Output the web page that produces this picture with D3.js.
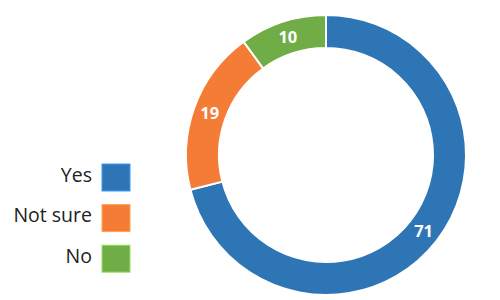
<!DOCTYPE html>
<html><head><meta charset="utf-8">
<script src="https://cdn.jsdelivr.net/npm/d3@7"></script>
<style>html,body{margin:0;padding:0;background:#fff;}</style>
</head><body>
<svg id="chart" width="500" height="300"></svg>
<script>
const categories = ["Yes", "Not sure", "No"];
const values = [71, 19, 10];
const colors = ["#2E75B6", "#F47C37", "#70AD47"];

const svg = d3.select("#chart");
const cx = 326, cy = 155, rOuter = 140, rInner = 107;

const pie = d3.pie().sort(null).value(d => d.v);
const arcs = pie(categories.map((c, i) => ({c, v: values[i], col: colors[i]})));
const arc = d3.arc().innerRadius(rInner).outerRadius(rOuter);
const labelArc = d3.arc().innerRadius((rInner + rOuter) / 2).outerRadius((rInner + rOuter) / 2);

const g = svg.append("g").attr("transform", `translate(${cx},${cy})`);
g.selectAll("path").data(arcs).join("path")
  .attr("d", arc)
  .attr("fill", d => d.data.col)
  .attr("stroke", "#fff")
  .attr("stroke-width", 2);

g.selectAll("text").data(arcs).join("text")
  .attr("transform", d => `translate(${labelArc.centroid(d)})`)
  .attr("text-anchor", "middle")
  .attr("dy", "0.36em")
  .attr("fill", "#fff")
  .attr("font-family", "Open Sans, sans-serif")
  .attr("font-weight", "bold")
  .attr("font-size", 16.5)
  .text(d => d.data.v);

const legend = svg.append("g");
const ly = d3.scalePoint().domain(categories).range([177.5, 258.7]);
const items = legend.selectAll("g").data(categories).join("g")
  .attr("transform", d => `translate(0,${ly(d)})`);
items.append("rect")
  .attr("x", 102).attr("y", -13.5).attr("width", 28).attr("height", 27)
  .attr("fill", (d, i) => colors[i])
  .attr("stroke", (d, i) => d3.color(colors[i]).brighter(0.8))
  .attr("stroke-width", 1);
items.append("text")
  .attr("x", 92).attr("y", 4)
  .attr("text-anchor", "end")
  .attr("font-family", "Open Sans, sans-serif")
  .attr("font-size", 19.5)
  .attr("fill", "#222")
  .text(d => d);
</script>
</body></html>
